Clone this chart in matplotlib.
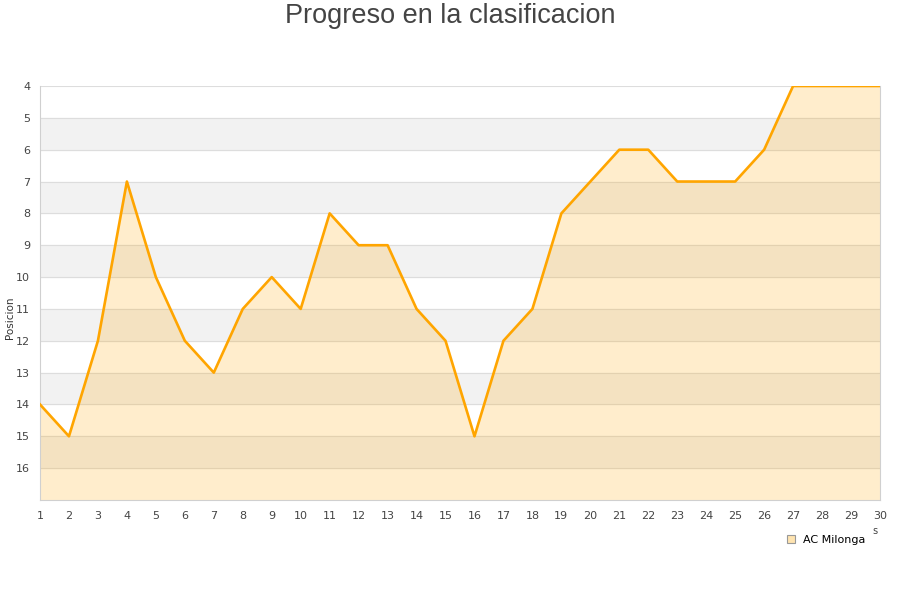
import numpy as np
import matplotlib.pyplot as plt

# Jornadas y posicion de AC Milonga
jornadas = list(range(1, 31))
posicion = [14, 15, 12, 7, 10, 12, 13, 11, 10, 11,
            8, 9, 9, 11, 12, 15, 12, 11, 8, 7,
            6, 6, 7, 7, 7, 6, 4, 4, 4, 4]
y_ticks = list(range(4, 17))
equipo = 'AC Milonga'

fig = plt.figure(figsize=(9, 6), dpi=100)
ax = fig.add_axes([40 / 900, 100 / 600, 840 / 900, 414 / 600])

ax.set_xlim(1, 30)
ax.set_ylim(17, 4)

# alternating bands
for y in range(5, 17, 2):
    ax.axhspan(y, y + 1, color='#f2f2f2', zorder=0)
for y in y_ticks:
    ax.axhline(y, color='#dddddd', linewidth=0.8, zorder=1)

ax.fill_between(jornadas, posicion, 17, color='#ffa500', alpha=0.2, linewidth=0, zorder=2)
ax.plot(jornadas, posicion, color='#ffa500', linewidth=1.9, zorder=3)

ax.set_xticks(jornadas)
ax.set_yticks(y_ticks)
ax.tick_params(length=0, labelsize=8, labelcolor='#444444', pad=8)
ax.tick_params(axis='y', pad=7)
for side in ['left', 'bottom', 'right']:
    ax.spines[side].set_color('#d0d0d0')
ax.spines['top'].set_visible(False)
ax.set_ylabel('Posicion', fontsize=7.5, color='#333333')
ax.yaxis.set_label_coords(-25 / 840, 0.44)

fig.text(0.5, 0.995, 'Progreso en la clasificacion', ha='center', va='top',
         fontsize=19.5, color='#444444', family='Liberation Sans')

leg = ax.legend([plt.Rectangle((0, 0), 1, 1, facecolor='#ffe4b0', edgecolor='#999999', linewidth=0.8)],
                [equipo], loc='upper right', bbox_to_anchor=(0.995, -0.06),
                frameon=False, fontsize=8, handlelength=0.7, handleheight=0.7, handletextpad=0.8)
fig.text(875 / 900, 1 - 531 / 600, 's', ha='center', va='center', fontsize=7, color='#444444')

fig.savefig('out.png', dpi=100)
